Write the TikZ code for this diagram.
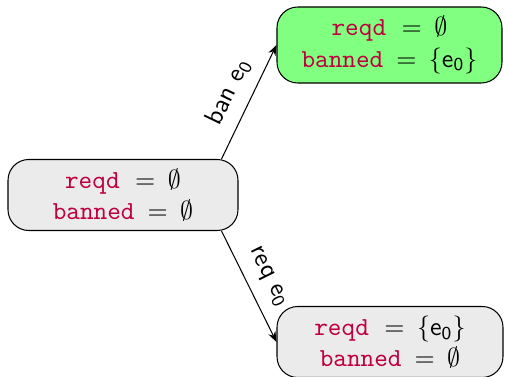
\documentclass[tikz,border=0pt]{standalone}
\usetikzlibrary{arrows.meta,calc}
\definecolor{kw}{rgb}{0.75,0,0.25}
\definecolor{boxgray}{RGB}{235,235,235}
\definecolor{boxgreen}{RGB}{128,255,128}
\newcommand{\kwd}[1]{\textcolor{kw}{\texttt{#1}}}
\newcommand{\ez}{\mathsf{e}_{\mathsf{0}}}
\newcommand{\eqs}[1]{\hspace{#1}$=$\hspace{4.8pt}}
\begin{document}
\begin{tikzpicture}[x=0.385pt,y=-0.385pt,
  statebox/.style={draw, rounded corners=8pt, minimum width=230*0.385pt, minimum height=71*0.385pt, align=center, inner sep=2pt},
  edgelbl/.style={font=\sffamily, sloped, above, inner sep=4.5pt},
  conn/.style={-{Stealth[length=4pt,width=3pt]}, thin}]
\useasboundingbox (0,0) rectangle (505,377);
\node[statebox, fill=boxgray] (L) at (123,195) {\kwd{reqd}\eqs{6pt}$\emptyset$\\ \kwd{banned}\eqs{5pt}$\emptyset$};
\node[statebox, fill=boxgreen, minimum width=225*0.385pt, minimum height=76*0.385pt] (T) at (389.5,45) {\kwd{reqd}\eqs{6pt}$\emptyset$\\ \kwd{banned}\eqs{5pt}$\{\ez\}$};
\node[statebox, fill=boxgray, minimum width=226*0.385pt] (B) at (390,342) {\kwd{reqd}\eqs{6pt}$\{\ez\}$\\ \kwd{banned}\eqs{5pt}$\emptyset$};
\draw[conn] ($(L.north east)+(-17,0)$) -- node[edgelbl] {ban $\ez$} (T.west);
\draw[conn] ($(L.south east)+(-17,0)$) -- node[edgelbl] {req $\ez$} (B.west);
\end{tikzpicture}
\end{document}
